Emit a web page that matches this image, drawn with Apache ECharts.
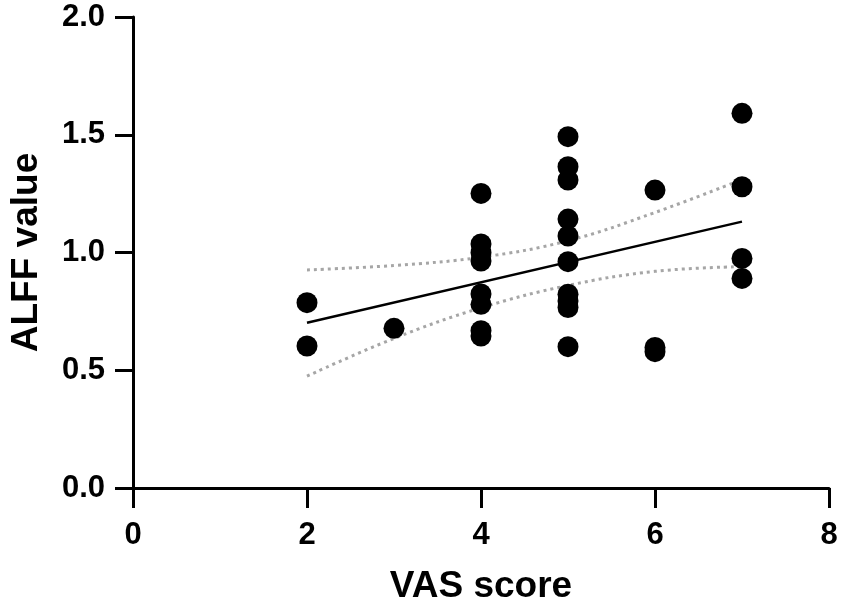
<!DOCTYPE html>
<html>
<head>
<meta charset="utf-8">
<script src="https://cdn.jsdelivr.net/npm/echarts@6/dist/echarts.min.js"></script>
<style>
html,body{margin:0;padding:0;background:#fff;}
#chart{width:853px;height:613px;}
</style>
</head>
<body>
<div id="chart"></div>
<script>
// Observed data (VAS score vs ALFF value)
const vasScores = [2, 2, 3,
  4, 4, 4, 4, 4, 4, 4, 4,
  5, 5, 5, 5, 5, 5, 5, 5, 5, 5,
  6, 6, 6,
  7, 7, 7, 7];
const alffValues = [0.787, 0.603, 0.678,
  1.251, 1.036, 0.999, 0.964, 0.824, 0.780, 0.668, 0.645,
  1.492, 1.364, 1.308, 1.142, 1.070, 0.961, 0.823, 0.794, 0.766, 0.600,
  1.265, 0.597, 0.579,
  1.591, 1.279, 0.975, 0.890];

// Fitted regression line
const fitX = [2, 7];
const fitY = [0.702, 1.131];

// 95% confidence band
const bandX = [2, 3, 4, 5, 6, 7];
const upperBand = [0.926, 0.945, 0.980, 1.050, 1.170, 1.310];
const lowerBand = [0.475, 0.635, 0.765, 0.860, 0.920, 0.940];

// Axis ticks
const xTicks = [0, 2, 4, 6, 8];
const yTicks = [0.0, 0.5, 1.0, 1.5, 2.0];

const FONT = 'Liberation Sans';
const zip = (a, b) => a.map((v, i) => [v, b[i]]);

const chart = echarts.init(document.getElementById('chart'), null, {renderer: 'canvas'});
chart.setOption({
  backgroundColor: '#ffffff',
  animation: false,
  grid: {left: 131, right: 24, top: 17, bottom: 125, containLabel: false},
  xAxis: {
    type: 'value',
    min: xTicks[0], max: xTicks[xTicks.length - 1], interval: 2,
    name: 'VAS score',
    nameLocation: 'middle',
    nameGap: 80,
    nameTextStyle: {fontFamily: FONT, fontWeight: 'bold', fontSize: 37, color: '#000'},
    axisLine: {show: true, onZero: false, lineStyle: {color: '#000', width: 3}},
    axisTick: {show: true, inside: false, length: 20, lineStyle: {color: '#000', width: 3}},
    axisLabel: {margin: 32, fontFamily: FONT, fontWeight: 'bold', fontSize: 31, color: '#000'},
    splitLine: {show: false}
  },
  yAxis: {
    type: 'value',
    min: yTicks[0], max: yTicks[yTicks.length - 1], interval: 0.5,
    name: 'ALFF value',
    nameLocation: 'middle',
    nameGap: 88,
    nameRotate: 90,
    nameTextStyle: {fontFamily: FONT, fontWeight: 'bold', fontSize: 37, color: '#000'},
    axisLine: {show: true, onZero: false, lineStyle: {color: '#000', width: 3}},
    axisTick: {show: true, inside: false, length: 18, lineStyle: {color: '#000', width: 3}},
    axisLabel: {margin: 28, fontFamily: FONT, fontWeight: 'bold', fontSize: 31, color: '#000',
      formatter: v => v.toFixed(1)},
    splitLine: {show: false}
  },
  series: [
    {
      type: 'line', data: zip(bandX, upperBand), smooth: 0.4, symbol: 'none', z: 1,
      lineStyle: {color: '#a6a6a6', width: 3, type: [3, 4]}
    },
    {
      type: 'line', data: zip(bandX, lowerBand), smooth: 0.4, symbol: 'none', z: 1,
      lineStyle: {color: '#a6a6a6', width: 3, type: [3, 4]}
    },
    {
      type: 'line', data: zip(fitX, fitY), symbol: 'none', z: 2,
      lineStyle: {color: '#000', width: 2.5}
    },
    {
      type: 'scatter', data: zip(vasScores, alffValues), symbol: 'circle', symbolSize: 21, z: 3,
      itemStyle: {color: '#000', opacity: 1}
    }
  ]
});
</script>
</body>
</html>
